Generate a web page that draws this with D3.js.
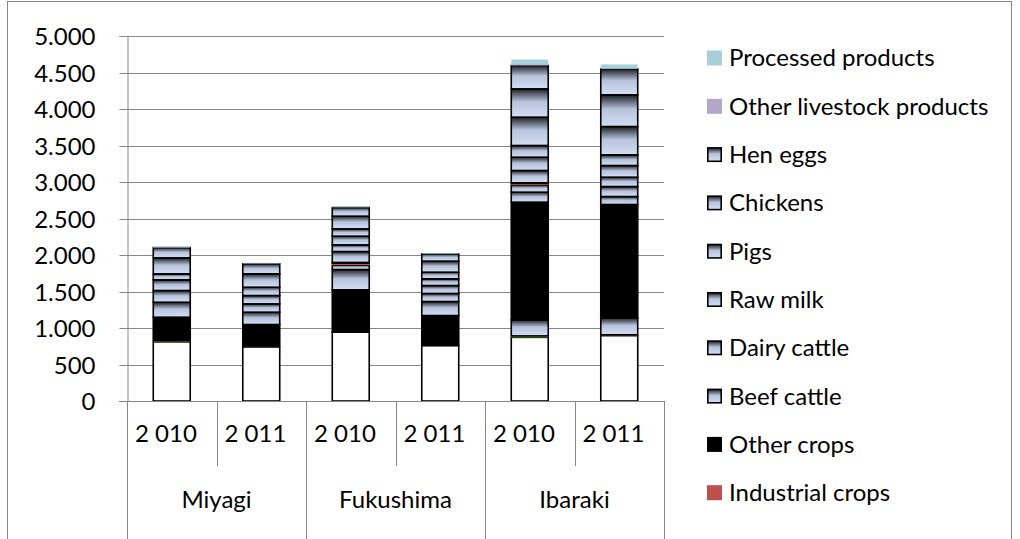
<!DOCTYPE html>
<html><head><meta charset="utf-8">
<script src="https://cdn.jsdelivr.net/npm/d3@7"></script>
<style>html,body{margin:0;padding:0;background:#fff;overflow:hidden}</style>
</head><body>
<svg id="c" width="1020" height="539"></svg>
<script>
// ---- data ----
const groups = ["Miyagi", "Fukushima", "Ibaraki"];
const years = ["2 010", "2 011"];
const yTicks = [0, 500, 1000, 1500, 2000, 2500, 3000, 3500, 4000, 4500, 5000];
// series, bottom of stack to top; values per bar: Miyagi 2010, 2011, Fukushima 2010, 2011, Ibaraki 2010, 2011
const seriesNames = ["Rice", "Wheat", "Pulses", "Potatoes", "Vegetables", "Fruits", "Flowers",
  "Industrial crops", "Other crops", "Beef cattle", "Dairy cattle", "Raw milk", "Pigs",
  "Chickens", "Hen eggs", "Other livestock products", "Processed products"];
const rice            = [810, 740, 943, 760, 872, 895];
const wheat           = [15, 12, 0, 0, 20, 0];
const pulses          = [0, 0, 0, 0, 0, 12];
const potatoes        = [0, 0, 0, 0, 220, 232];
const vegetables      = [323, 296, 580, 411, 1612, 1553];
const fruits          = [0, 0, 278, 192, 137, 109];
const flowers         = [0, 0, 60, 0, 100, 137];
const industrialCrops = [0, 0, 27, 0, 23, 0];
const otherCrops      = [0, 0, 10, 0, 5, 0];
const beefCattle      = [205, 169, 150, 110, 169, 128];
const dairyCattle     = [161, 114, 91, 109, 182, 160];
const rawMilk         = [146, 114, 119, 92, 160, 146];
const pigs            = [82, 114, 100, 91, 388, 388];
const chickens        = [219, 183, 174, 151, 388, 434];
const henEggs         = [140, 138, 118, 100, 320, 356];
const otherLivestock  = [0, 0, 0, 0, 12, 0];
const processed       = [10, 8, 5, 10, 70, 60];
const seriesValues = [rice, wheat, pulses, potatoes, vegetables, fruits, flowers, industrialCrops,
  otherCrops, beefCattle, dairyCattle, rawMilk, pigs, chickens, henEggs, otherLivestock, processed];
// number of series shown in the legend (the top ones)
const legendCount = 10;

// ---- styles ----
const GRAD = "url(#grad)";
const styleOf = {
  "Rice": {fill: "#ffffff", stroke: "#000"},
  "Wheat": {fill: "#8fb050", stroke: "none"},
  "Pulses": {fill: "#c0504d", stroke: "none"},
  "Potatoes": {fill: GRAD, stroke: "#000"},
  "Vegetables": {fill: "#000", stroke: "#000"},
  "Fruits": {fill: GRAD, stroke: "#000"},
  "Flowers": {fill: GRAD, stroke: "#000"},
  "Industrial crops": {fill: "#c0504d", stroke: "none"},
  "Other crops": {fill: "#000", stroke: "#000"},
  "Beef cattle": {fill: GRAD, stroke: "#000"},
  "Dairy cattle": {fill: GRAD, stroke: "#000"},
  "Raw milk": {fill: GRAD, stroke: "#000"},
  "Pigs": {fill: GRAD, stroke: "#000"},
  "Chickens": {fill: GRAD, stroke: "#000"},
  "Hen eggs": {fill: GRAD, stroke: "#000"},
  "Other livestock products": {fill: "#b3a6c8", stroke: "none"},
  "Processed products": {fill: "#a8cfda", stroke: "none"}
};
const FONT = "Lato, 'Open Sans', sans-serif";
const axisColor = "#878787";

const svg = d3.select("#c");
const defs = svg.append("defs");
const g = defs.append("linearGradient").attr("id", "grad")
  .attr("x1", 0).attr("y1", 0).attr("x2", 0).attr("y2", 1);
[[0, "#1c1c1c"], [0.12, "#464a53"], [0.45, "#b6c3dc"], [1, "#d3def4"]].forEach(([o, c]) =>
  g.append("stop").attr("offset", o).attr("stop-color", c));

svg.append("rect").attr("width", 1020).attr("height", 539).attr("fill", "#fff");
// chart border
svg.append("rect").attr("x", 7.5).attr("y", 1.5).attr("width", 1004).attr("height", 560)
  .attr("fill", "none").attr("stroke", axisColor).attr("stroke-width", 1);

// ---- scales ----
const plotL = 127, plotR = 664, plotT = 36, plotB = 401;
const bars = [];
groups.forEach(gr => years.forEach(yr => bars.push(gr + "|" + yr)));
const x = d3.scaleBand().domain(bars).range([plotL, plotR]).paddingInner(0.587).paddingOuter(0.2935);
const xg = d3.scaleBand().domain(groups).range([plotL, plotR]);
const y = d3.scaleLinear().domain([0, 5000]).range([plotB, plotT]);

// gridlines
svg.append("g").selectAll("line").data(yTicks.filter(t => t > 0)).join("line")
  .attr("x1", plotL).attr("x2", plotR)
  .attr("y1", d => Math.round(y(d)) + 0.5).attr("y2", d => Math.round(y(d)) + 0.5)
  .attr("stroke", axisColor).attr("stroke-width", 1);

// y axis
const fmt = d3.formatLocale({decimal: ",", thousands: ".", grouping: [3], currency: ["", ""]}).format(",");
const yAxis = svg.append("g").attr("transform", `translate(${plotL + 0.5},0)`)
  .call(d3.axisLeft(y).tickValues(yTicks).tickFormat(fmt).tickSize(8).tickPadding(24));
yAxis.select(".domain").attr("stroke", axisColor);
yAxis.selectAll(".tick line").attr("stroke", axisColor);
yAxis.selectAll(".tick").attr("transform", d => `translate(0,${Math.round(y(d)) + 0.5})`);
yAxis.selectAll("text").attr("font-family", FONT).attr("font-size", 24).attr("fill", "#000")
  .attr("dy", "0.35em");

// ---- stacked bars ----
const table = bars.map((b, i) => {
  const row = {bar: b};
  seriesNames.forEach((s, k) => row[s] = seriesValues[k][i]);
  return row;
});
const stacked = d3.stack().keys(seriesNames)(table);
stacked.forEach(layer => {
  const st = styleOf[layer.key];
  svg.append("g").selectAll("rect").data(layer.filter(d => d[1] - d[0] > 0)).join("rect")
    .attr("x", d => x(d.data.bar))
    .attr("width", x.bandwidth())
    .attr("y", d => y(d[1]))
    .attr("height", d => y(d[0]) - y(d[1]))
    .attr("fill", st.fill)
    .attr("stroke", st.stroke)
    .attr("stroke-width", st.stroke === "none" ? 0 : 1.6);
});

// ---- x axis (two levels) ----
const ax = svg.append("g").attr("stroke", axisColor).attr("stroke-width", 1);
ax.append("line").attr("x1", plotL - 8).attr("x2", plotR + 0.5)
  .attr("y1", plotB + 0.5).attr("y2", plotB + 0.5);
const gEdges = groups.map(gr => xg(gr)).concat([plotR]);
ax.selectAll("line.grp").data(gEdges).join("line").attr("class", "grp")
  .attr("x1", d => Math.round(d) + 0.5).attr("x2", d => Math.round(d) + 0.5)
  .attr("y1", plotB).attr("y2", 539);
ax.selectAll("line.yr").data(groups).join("line").attr("class", "yr")
  .attr("x1", d => Math.round(xg(d) + xg.bandwidth() / 2) + 0.5)
  .attr("x2", d => Math.round(xg(d) + xg.bandwidth() / 2) + 0.5)
  .attr("y1", plotB).attr("y2", 466);

const step = x.step();
svg.append("g").selectAll("text").data(bars).join("text")
  .attr("x", d => x(d) + x.bandwidth() / 2 - step / 2 + 8)
  .attr("y", 434)
  .attr("dy", "0.35em")
  .attr("font-family", FONT).attr("font-size", 24).attr("fill", "#000")
  .text(d => d.split("|")[1]);
svg.append("g").selectAll("text").data(groups).join("text")
  .attr("x", d => xg(d) + xg.bandwidth() / 2)
  .attr("y", 500)
  .attr("dy", "0.35em")
  .attr("text-anchor", "middle")
  .attr("font-family", FONT).attr("font-size", 24).attr("fill", "#000")
  .text(d => d);

// ---- legend ----
const legendItems = seriesNames.slice(-legendCount).reverse();
const lg = svg.append("g").selectAll("g").data(legendItems).join("g")
  .attr("transform", (d, i) => `translate(707,${58 + i * 48.3})`);
lg.append("rect")
  .attr("x", d => styleOf[d].stroke === "none" ? 0 : 0.8)
  .attr("y", d => styleOf[d].stroke === "none" ? -7.5 : -6.7)
  .attr("width", d => styleOf[d].stroke === "none" ? 15 : 13.4)
  .attr("height", d => styleOf[d].stroke === "none" ? 15 : 13.4)
  .attr("fill", d => styleOf[d].fill)
  .attr("stroke", d => styleOf[d].stroke)
  .attr("stroke-width", d => styleOf[d].stroke === "none" ? 0 : 1.6);
lg.append("text").attr("x", 22).attr("y", 0).attr("dy", "0.35em")
  .attr("font-family", FONT).attr("font-size", 24).attr("fill", "#000")
  .text(d => d);
</script>
</body></html>
